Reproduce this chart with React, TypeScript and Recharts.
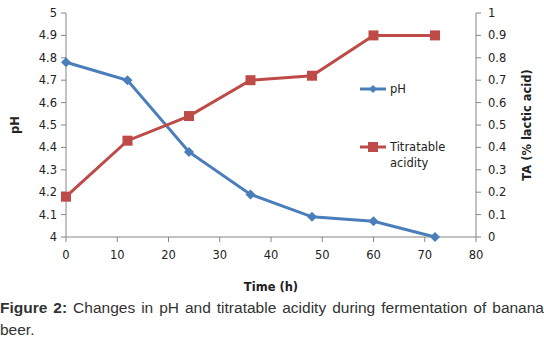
import React from 'react';
import { LineChart, Line, XAxis, YAxis } from 'recharts';

const hours = [0, 12, 24, 36, 48, 60, 72];
const phValues = [4.78, 4.7, 4.38, 4.19, 4.09, 4.07, 4.0];
const taValues = [0.18, 0.43, 0.54, 0.7, 0.72, 0.9, 0.9];
const xTicks = [0, 10, 20, 30, 40, 50, 60, 70, 80];
const phTicks = [4, 4.1, 4.2, 4.3, 4.4, 4.5, 4.6, 4.7, 4.8, 4.9, 5];
const taTicks = [0, 0.1, 0.2, 0.3, 0.4, 0.5, 0.6, 0.7, 0.8, 0.9, 1];

const BLUE = '#4a7ebb';
const RED = '#be4b48';
const AXIS = '#868686';
const tickFont = { fontFamily: 'DejaVu Sans', fontSize: 11.5, fill: '#222' };
const titleFont = { fontFamily: 'DejaVu Sans', fontSize: 11.5, fontWeight: 'bold', fill: '#222' };

const chartData = hours.map((h, i) => ({ time: h, ph: phValues[i], ta: taValues[i] }));

const Diamond = (props: any) => {
  const { cx, cy } = props;
  if (cx == null || cy == null) return null;
  const r = 5;
  return <path key={`d${cx}`} d={`M${cx},${cy - r}L${cx + r},${cy}L${cx},${cy + r}L${cx - r},${cy}Z`} fill={BLUE} />;
};

const Square = (props: any) => {
  const { cx, cy } = props;
  if (cx == null || cy == null) return null;
  const s = 5;
  return <rect key={`s${cx}`} x={cx - s} y={cy - s} width={s * 2} height={s * 2} fill={RED} />;
};

const LegendBox = () => (
  <div
    style={{
      position: 'absolute',
      left: 358,
      top: 81,
      fontFamily: 'DejaVu Sans',
      fontSize: 11.5,
      color: '#222',
      lineHeight: '16px',
    }}
  >
    <div style={{ display: 'flex', alignItems: 'center' }}>
      <svg width={30} height={14}>
        <line x1={2} y1={7} x2={28} y2={7} stroke={BLUE} strokeWidth={3} />
        <path d="M15,3L19,7L15,11L11,7Z" fill={BLUE} />
      </svg>
      <span style={{ marginLeft: 2 }}>pH</span>
    </div>
    <div style={{ display: 'flex', alignItems: 'flex-start', marginTop: 42 }}>
      <svg width={30} height={16}>
        <line x1={2} y1={8} x2={28} y2={8} stroke={RED} strokeWidth={3} />
        <rect x={10} y={3} width={10} height={10} fill={RED} />
      </svg>
      <span style={{ marginLeft: 2 }}>
        Titratable
        <br />
        acidity
      </span>
    </div>
  </div>
);

export default function App() {
  return (
    <div style={{ position: 'absolute', left: 0, top: 0, width: 544, height: 342, background: '#fff' }}>
      <LineChart width={544} height={300} data={chartData} margin={{ top: 13, right: 0, bottom: 33, left: 0 }}>
        <XAxis
          dataKey="time"
          type="number"
          domain={[0, 80]}
          ticks={xTicks}
          interval={0}
          stroke={AXIS}
          tickSize={5}
          tickMargin={9}
          tick={tickFont}
          height={30}
          label={(p: any) => {
            const vb = p.viewBox;
            return (
              <text x={vb.x + vb.width / 2} y={vb.y + 54} textAnchor="middle" style={titleFont}>
                Time (h)
              </text>
            );
          }}
        />
        <YAxis
          yAxisId="ph"
          domain={[4, 5]}
          ticks={phTicks}
          interval={0}
          stroke={AXIS}
          tickSize={5}
          tickMargin={4}
          tick={tickFont}
          width={66}
          label={(p: any) => {
            const vb = p.viewBox;
            const x = vb.x + 15;
            const y = vb.y + vb.height / 2;
            return (
              <text x={x} y={y} transform={`rotate(-90 ${x} ${y})`} textAnchor="middle" dominantBaseline="middle" style={titleFont}>
                pH
              </text>
            );
          }}
        />
        <YAxis
          yAxisId="ta"
          orientation="right"
          domain={[0, 1]}
          ticks={taTicks}
          interval={0}
          stroke={AXIS}
          tickSize={5}
          tickMargin={7}
          tick={tickFont}
          width={68}
          label={(p: any) => {
            const vb = p.viewBox;
            const x = vb.x + 51;
            const y = vb.y + vb.height / 2;
            return (
              <text x={x} y={y} transform={`rotate(-90 ${x} ${y})`} textAnchor="middle" dominantBaseline="middle" style={titleFont}>
                TA (% lactic acid)
              </text>
            );
          }}
        />
        <Line yAxisId="ph" dataKey="ph" stroke={BLUE} strokeWidth={3} dot={Diamond} isAnimationActive={false} />
        <Line yAxisId="ta" dataKey="ta" stroke={RED} strokeWidth={3} dot={Square} isAnimationActive={false} />
      </LineChart>
      <LegendBox />
      <div
        style={{
          position: 'absolute',
          left: 0,
          top: 297,
          width: 544,
          fontFamily: 'Liberation Sans, Arial, sans-serif',
          fontSize: 15.5,
          lineHeight: '22px',
          color: '#333',
          textAlign: 'justify',
        }}
      >
        <b>Figure 2:</b> Changes in pH and titratable acidity during fermentation of banana beer.
      </div>
    </div>
  );
}
